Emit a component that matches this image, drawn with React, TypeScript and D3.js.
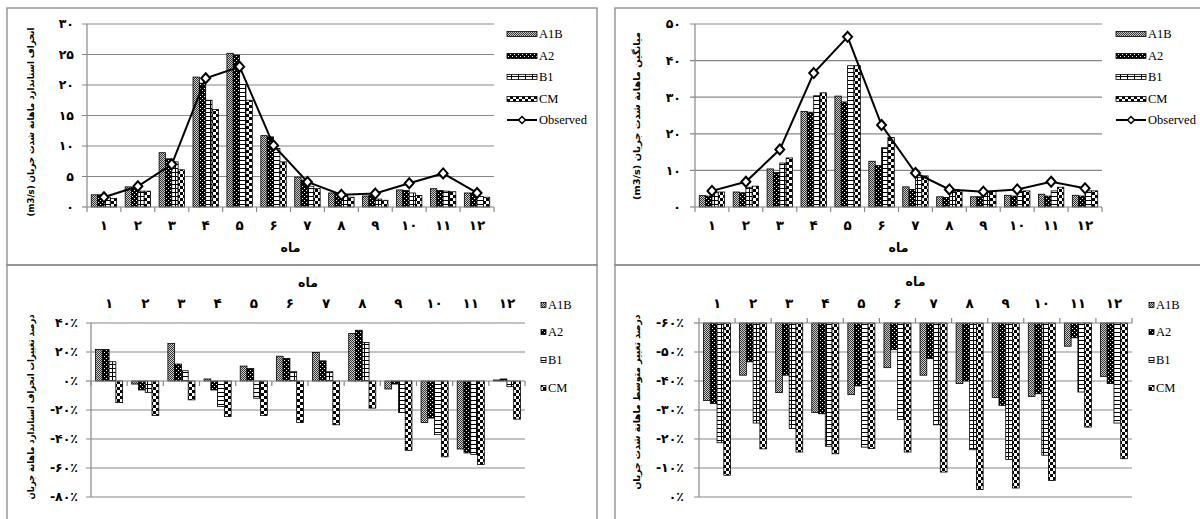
import React, { useEffect, useRef } from "react";
import * as d3 from "d3";

// months (Persian digits) and scenarios
const months = ["۱", "۲", "۳", "۴", "۵", "۶", "۷", "۸", "۹", "۱۰", "۱۱", "۱۲"];
const series = ["A1B", "A2", "B1", "CM"];

// top-left: monthly standard deviation of flow (m3/s)
const sdA1B = [2.0, 3.3, 8.9, 21.3, 25.2, 11.7, 4.9, 2.3, 1.8, 2.8, 3.0, 2.3];
const sdA2 = [2.0, 3.2, 7.9, 20.3, 24.9, 11.5, 4.4, 2.2, 1.9, 2.7, 2.7, 2.2];
const sdB1 = [1.6, 2.6, 7.4, 17.5, 20.1, 9.6, 3.4, 1.9, 1.3, 2.3, 2.6, 1.7];
const sdCM = [1.4, 2.6, 6.1, 16.0, 17.5, 7.4, 3.0, 1.6, 1.1, 1.9, 2.5, 1.6];
const sdObs = [1.6, 3.4, 7.0, 21.1, 23.0, 10.1, 4.1, 2.0, 2.2, 3.9, 5.5, 2.3];

// top-right: monthly mean flow (m3/s)
const mA1B = [3.1, 4.1, 10.4, 26.1, 30.3, 12.5, 5.5, 2.8, 2.8, 3.2, 3.5, 3.2];
const mA2 = [3.0, 3.9, 9.4, 25.9, 28.7, 11.3, 4.8, 2.6, 2.8, 3.0, 3.0, 3.0];
const mB1 = [3.9, 5.4, 12.0, 30.4, 38.6, 16.2, 8.1, 4.2, 3.9, 4.2, 4.4, 4.4];
const mCM = [4.1, 5.7, 13.4, 31.2, 38.6, 19.0, 8.5, 4.4, 4.2, 4.4, 5.4, 4.4];
const mObs = [4.4, 6.9, 15.7, 36.6, 46.5, 22.4, 9.3, 4.8, 4.2, 4.8, 6.9, 5.1];

// bottom-left: % change of monthly standard deviation
const cA1B = [21.7, -2.1, 25.8, 1.4, 10.3, 17.1, 19.7, 32.7, -5.5, -28.6, -46.9, 0.7];
const cA2 = [21.7, -6.2, 11.7, -6.2, 8.7, 15.5, 13.9, 35.0, -2.1, -25.6, -49.6, 1.4];
const cB1 = [13.3, -7.8, 7.1, -17.6, -11.9, 6.4, 6.4, 26.5, -21.7, -37.0, -50.7, -3.9];
const cCM = [-14.9, -23.8, -13.0, -24.5, -23.8, -28.6, -30.2, -18.7, -47.8, -52.3, -57.6, -26.3];

// bottom-right: % change of monthly mean flow
const dA1B = [-33.3, -42.0, -36.0, -29.1, -35.3, -44.6, -42.0, -39.1, -34.3, -34.7, -52.0, -41.6];
const dA2 = [-32.2, -46.6, -42.0, -28.7, -38.3, -50.8, -47.7, -40.0, -31.6, -35.6, -54.9, -39.1];
const dB1 = [-18.7, -25.5, -23.6, -17.5, -17.2, -26.7, -24.9, -16.3, -12.9, -14.4, -36.2, -25.5];
const dCM = [-7.5, -16.6, -15.5, -14.9, -16.7, -15.5, -8.6, -2.6, -3.1, -5.7, -24.1, -13.2];

// axis ticks
const sdTicks = [0, 5, 10, 15, 20, 25, 30];
const mTicks = [0, 10, 20, 30, 40, 50];
const cTicks = [40, 20, 0, -20, -40, -60, -80];
const dTicks = [-60, -50, -40, -30, -20, -10, 0];

const FA = "۰۱۲۳۴۵۶۷۸۹";
const fa = (n: number) => String(n).replace(/\d/g, (d) => FA[+d]);
const faPct = (n: number) => (n < 0 ? "-" : "") + fa(Math.abs(n)) + "٪";

const GRID = "#888";
const FA_FONT = "'DejaVu Sans', sans-serif";
const EN_FONT = "'Liberation Serif', 'Times New Roman', serif";

const App = () => {
    const ref = useRef<SVGSVGElement>(null);

    useEffect(() => {
        const svg = d3.select(ref.current);
        svg.selectAll("*").remove();

        // fill patterns, one per scenario
        const defs = svg.append("defs");
        const pat = (id: string, w: number, h: number, bg: string) => {
            const p = defs
                .append("pattern")
                .attr("id", id)
                .attr("patternUnits", "userSpaceOnUse")
                .attr("width", w)
                .attr("height", h);
            p.append("rect").attr("width", w).attr("height", h).attr("fill", bg);
            return p;
        };
        const pA1B = pat("pA1B", 2, 2, "#c8c8c8");
        pA1B.append("rect").attr("x", 0).attr("y", 0).attr("width", 1).attr("height", 1).attr("fill", "#3a3a3a");
        pA1B.append("rect").attr("x", 1).attr("y", 1).attr("width", 1).attr("height", 1).attr("fill", "#3a3a3a");
        const pA2 = pat("pA2", 4, 4, "#000");
        pA2.append("rect").attr("x", 0).attr("y", 0).attr("width", 1).attr("height", 1).attr("fill", "#fff");
        pA2.append("rect").attr("x", 2).attr("y", 2).attr("width", 1).attr("height", 1).attr("fill", "#fff");
        const pB1 = pat("pB1", 7, 4, "#fff");
        pB1.append("rect").attr("x", 0).attr("y", 0).attr("width", 7).attr("height", 1).attr("fill", "#000");
        pB1.append("rect").attr("x", 0).attr("y", 0).attr("width", 1).attr("height", 4).attr("fill", "#000");
        const pCM = pat("pCM", 6, 6, "#fff");
        pCM.append("rect").attr("x", 0).attr("y", 0).attr("width", 3).attr("height", 3).attr("fill", "#000");
        pCM.append("rect").attr("x", 3).attr("y", 3).attr("width", 3).attr("height", 3).attr("fill", "#000");
        const fills: Record<string, string> = {
            A1B: "url(#pA1B)",
            A2: "url(#pA2)",
            B1: "url(#pB1)",
            CM: "url(#pCM)",
        };

        // panel frames
        const frames = [
            [7, 8, 597, 265],
            [615, 8, 1210, 265],
            [7, 265, 597, 530],
            [615, 265, 1210, 530],
        ];
        svg.append("g")
            .selectAll("rect")
            .data(frames)
            .join("rect")
            .attr("x", (d) => d[0])
            .attr("y", (d) => d[1])
            .attr("width", (d) => d[2] - d[0])
            .attr("height", (d) => d[3] - d[1])
            .attr("fill", "none")
            .attr("stroke", GRID)
            .attr("stroke-width", 1.3);

        const diamond = "M0,-5L4.5,0L0,5L-4.5,0Z";

        const drawPanel = (o: any) => {
            const g = svg.append("g");
            const x = d3.scaleBand().domain(months).range([o.x0, o.x1]);
            const xs = d3
                .scaleBand()
                .domain(series)
                .range([0, x.bandwidth()])
                .paddingOuter(0.67);
            const y = d3.scaleLinear().domain(o.domain).range([o.y0, o.y1]);
            const axisY = y(o.axisAt);

            // gridlines
            g.append("g")
                .selectAll("line")
                .data(o.ticks.filter((t: number) => t !== o.axisAt))
                .join("line")
                .attr("x1", o.x0 - 5)
                .attr("x2", o.x1)
                .attr("y1", (d: number) => y(d))
                .attr("y2", (d: number) => y(d))
                .attr("stroke", GRID)
                .attr("stroke-width", 1.2);

            // value axis
            g.append("line")
                .attr("x1", o.x0)
                .attr("x2", o.x0)
                .attr("y1", o.y0)
                .attr("y2", o.y1)
                .attr("stroke", GRID)
                .attr("stroke-width", 1.2);
            g.append("line")
                .attr("x1", o.x0 - 5)
                .attr("x2", o.x0)
                .attr("y1", axisY)
                .attr("y2", axisY)
                .attr("stroke", GRID)
                .attr("stroke-width", 1.2);
            g.append("g")
                .selectAll("text")
                .data(o.ticks)
                .join("text")
                .attr("x", o.x0 - o.labelGap)
                .attr("y", (d: number) => y(d))
                .attr("dy", "0.35em")
                .attr("text-anchor", "end")
                .attr("font-family", FA_FONT)
                .attr("font-weight", "bold")
                .attr("font-size", 12.5)
                .text((d: number) => o.fmt(d));

            // bars
            const base = y(o.base);
            series.forEach((s, si) => {
                g.append("g")
                    .selectAll("rect")
                    .data(o.values[si])
                    .join("rect")
                    .attr("x", (_: number, i: number) => x(months[i])! + xs(s)!)
                    .attr("y", (d: number) => Math.min(y(d), base))
                    .attr("width", xs.bandwidth())
                    .attr("height", (d: number) => Math.abs(y(d) - base))
                    .attr("fill", fills[s])
                    .attr("stroke", "#000")
                    .attr("stroke-width", 0.8);
            });

            // category axis
            g.append("line")
                .attr("x1", o.x0)
                .attr("x2", o.x1)
                .attr("y1", axisY)
                .attr("y2", axisY)
                .attr("stroke", GRID)
                .attr("stroke-width", 1.2);
            g.append("g")
                .selectAll("line")
                .data(d3.range(13))
                .join("line")
                .attr("x1", (i: number) => o.x0 + i * x.step())
                .attr("x2", (i: number) => o.x0 + i * x.step())
                .attr("y1", axisY)
                .attr("y2", axisY + o.tickDir * 5)
                .attr("stroke", GRID)
                .attr("stroke-width", 1.2);
            g.append("g")
                .selectAll("text")
                .data(months)
                .join("text")
                .attr("x", (d) => x(d)! + x.bandwidth() / 2)
                .attr("y", o.catY)
                .attr("dy", "0.35em")
                .attr("text-anchor", "middle")
                .attr("font-family", FA_FONT)
                .attr("font-weight", "bold")
                .attr("font-size", 13.5)
                .text((d) => d);
            g.append("text")
                .attr("x", (o.x0 + o.x1) / 2)
                .attr("y", o.monthY)
                .attr("dy", "0.35em")
                .attr("text-anchor", "middle")
                .attr("font-family", FA_FONT)
                .attr("font-weight", "bold")
                .attr("font-size", 12.5)
                .text("ماه");

            // observed line
            if (o.obs) {
                const cx = (i: number) => x(months[i])! + x.bandwidth() / 2;
                g.append("path")
                    .datum(o.obs)
                    .attr("fill", "none")
                    .attr("stroke", "#000")
                    .attr("stroke-width", 2)
                    .attr(
                        "d",
                        d3
                            .line<number>()
                            .x((_, i) => cx(i))
                            .y((d) => y(d))
                    );
                g.append("g")
                    .selectAll("path")
                    .data(o.obs)
                    .join("path")
                    .attr("d", diamond)
                    .attr("transform", (d: number, i: number) => `translate(${cx(i)},${y(d)})`)
                    .attr("fill", "#fff")
                    .attr("stroke", "#000")
                    .attr("stroke-width", 2);
            }

            // y title, squeezed to the reference length
            g.append("text")
                .attr("transform", `translate(${o.titleX},${o.titleY}) rotate(-90)`)
                .attr("direction", "rtl")
                .attr("text-anchor", "middle")
                .attr("dominant-baseline", "central")
                .attr("font-family", FA_FONT)
                .attr("font-weight", "bold")
                .attr("font-size", 9.5)
                .attr("textLength", o.titleLen)
                .attr("lengthAdjust", "spacingAndGlyphs")
                .text(o.title);

            // legend
            const lg = g.append("g");
            const items = o.obs ? [...series, "Observed"] : series;
            items.forEach((s, i) => {
                const ly = o.legY[i];
                if (s === "Observed") {
                    lg.append("line")
                        .attr("x1", o.legX)
                        .attr("x2", o.legX + 30)
                        .attr("y1", ly)
                        .attr("y2", ly)
                        .attr("stroke", "#000")
                        .attr("stroke-width", 2);
                    lg.append("path")
                        .attr("d", "M0,-3.5L3.5,0L0,3.5L-3.5,0Z")
                        .attr("transform", `translate(${o.legX + 15},${ly})`)
                        .attr("fill", "#fff")
                        .attr("stroke", "#000")
                        .attr("stroke-width", 1.5);
                } else {
                    lg.append("rect")
                        .attr("x", o.legX)
                        .attr("y", ly - o.swH / 2)
                        .attr("width", o.swW)
                        .attr("height", o.swH)
                        .attr("fill", fills[s])
                        .attr("stroke", "#000")
                        .attr("stroke-width", 0.8);
                }
                lg.append("text")
                    .attr("x", o.legX + (s === "Observed" ? 32 : o.swW + 2))
                    .attr("y", ly)
                    .attr("dy", "0.35em")
                    .attr("font-family", EN_FONT)
                    .attr("font-size", 12.5)
                    .text(s);
            });
        };

        drawPanel({
            x0: 87, x1: 494, y0: 207, y1: 24, domain: [0, 30], ticks: sdTicks, fmt: fa,
            base: 0, axisAt: 0, tickDir: 1, catY: 225, monthY: 248, labelGap: 13,
            values: [sdA1B, sdA2, sdB1, sdCM], obs: sdObs,
            title: "انحراف استاندارد ماهانة شدت جریان (m3/s)", titleX: 30, titleY: 122, titleLen: 189,
            legX: 507, legY: [34, 56, 77, 99, 120], swW: 30, swH: 5,
        });
        drawPanel({
            x0: 695, x1: 1102, y0: 207, y1: 24, domain: [0, 50], ticks: mTicks, fmt: fa,
            base: 0, axisAt: 0, tickDir: 1, catY: 225, monthY: 248, labelGap: 14,
            values: [mA1B, mA2, mB1, mCM], obs: mObs,
            title: "میانگین ماهانة شدت جریان (m3/s)", titleX: 636, titleY: 116, titleLen: 168,
            legX: 1116, legY: [34, 56, 77, 99, 120], swW: 30, swH: 5,
        });
        drawPanel({
            x0: 91, x1: 525, y0: 497, y1: 323, domain: [-80, 40], ticks: cTicks, fmt: faPct,
            base: 0, axisAt: 0, tickDir: 1, catY: 303, monthY: 283, labelGap: 13,
            values: [cA1B, cA2, cB1, cCM], obs: null,
            title: "درصد تغییرات انحراف استاندارد ماهانة جریان", titleX: 30, titleY: 407, titleLen: 185,
            legX: 541, legY: [305, 332, 360, 388], swW: 5, swH: 5,
        });
        drawPanel({
            x0: 699, x1: 1132, y0: 323, y1: 497, domain: [-60, 0], ticks: dTicks, fmt: faPct,
            base: -60, axisAt: -60, tickDir: -1, catY: 303, monthY: 282, labelGap: 15,
            values: [dA1B, dA2, dB1, dCM], obs: null,
            title: "درصد تغییر متوسط ماهانة شدت جریان", titleX: 636, titleY: 402, titleLen: 175,
            legX: 1149, legY: [305, 332, 360, 388], swW: 5, swH: 5,
        });
    }, []);

    return (
        <svg
            ref={ref}
            width={1200}
            height={519}
            style={{ position: "absolute", left: 0, top: 0, background: "#fff" }}
        ></svg>
    );
};

export default App;
